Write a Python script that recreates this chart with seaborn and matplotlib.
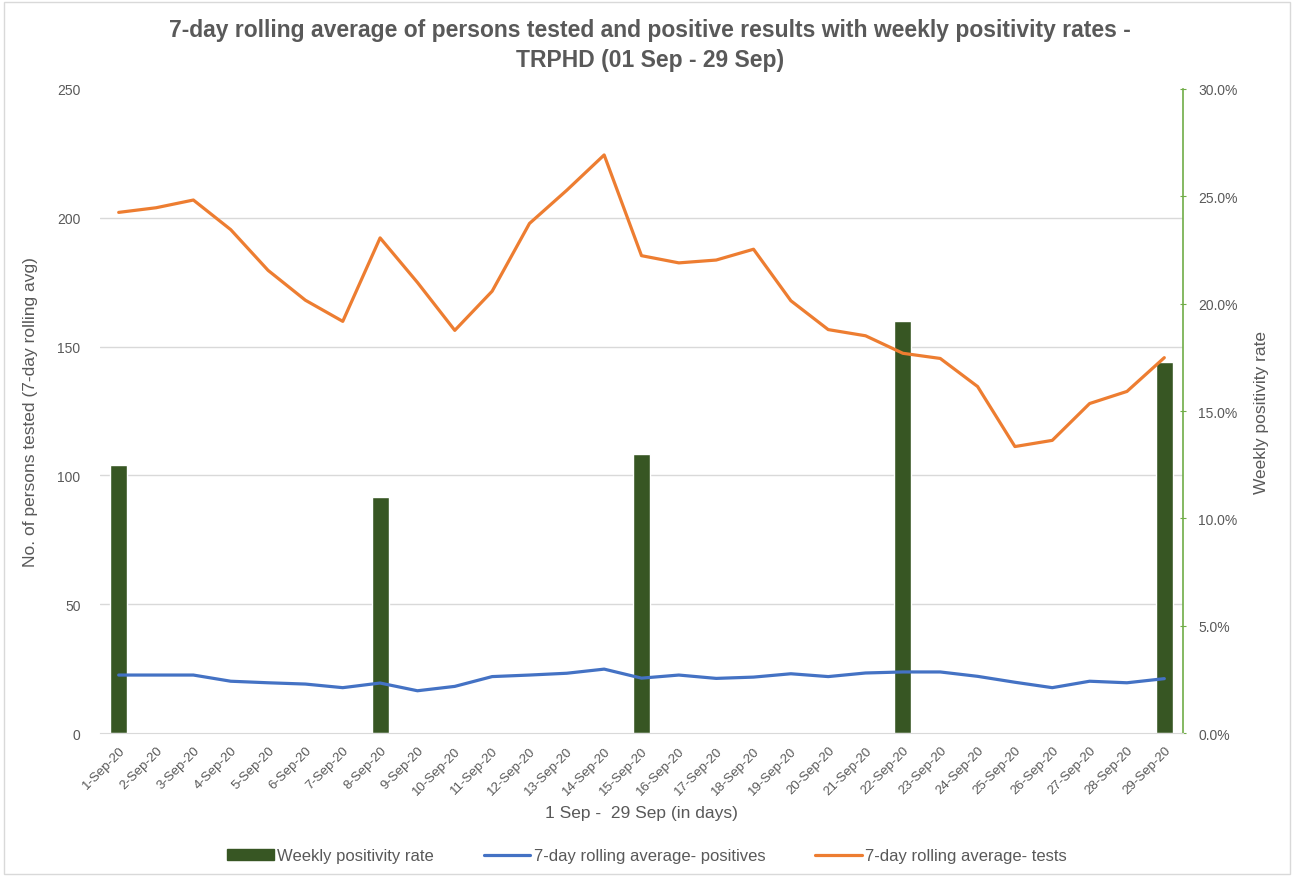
import numpy as np
import pandas as pd
import seaborn as sns
import matplotlib.pyplot as plt
from matplotlib.patches import Patch, Rectangle
from matplotlib.lines import Line2D
from matplotlib.ticker import PercentFormatter, FixedLocator, MultipleLocator

sns.set_style("white")
plt.rcParams['font.family'] = ['Liberation Sans', 'DejaVu Sans']

# Data
dates = [f"{d}-Sep-20" for d in range(1, 30)]
tests_avg = [202.1, 203.9, 206.9, 195.4, 179.6, 168.0, 159.8, 192.2, 174.9, 156.3,
             171.5, 197.8, 210.7, 224.4, 185.3, 182.5, 183.6, 187.8, 167.8, 156.6,
             154.2, 147.4, 145.4, 134.5, 111.2, 113.6, 127.9, 132.6, 145.7]
positives_avg = [22.5, 22.5, 22.5, 20.1, 19.5, 19.0, 17.6, 19.4, 16.4, 18.1,
                 21.9, 22.5, 23.2, 24.8, 21.3, 22.5, 21.2, 21.7, 23.0, 21.9,
                 23.3, 23.7, 23.7, 22.0, 19.7, 17.6, 20.1, 19.5, 21.1]
nan = np.nan
weekly_rate = [12.5, nan, nan, nan, nan, nan, nan, 11.0, nan, nan,
               nan, nan, nan, nan, 13.0, nan, nan, nan, nan, nan,
               nan, 19.2, nan, nan, nan, nan, nan, nan, 17.3]

df = pd.DataFrame({"date": dates, "pos": range(len(dates)), "tests": tests_avg,
                   "positives": positives_avg, "rate": weekly_rate})

grey = "#595959"
c_bar = "#375623"
c_blue = "#4472C4"
c_orange = "#ED7D31"
c_grid = "#D9D9D9"
c_green_axis = "#70AD47"

fig = plt.figure(figsize=(12.94, 8.78), dpi=100)
fig.patches.append(Rectangle((0.003, 0.003), 0.994, 0.994, transform=fig.transFigure,
                             fill=False, edgecolor=c_grid, linewidth=1))
ax = fig.add_axes([0.0773, 0.164, 0.8369, 0.7335])
ax2 = ax.twinx()

# bars on the secondary axis
sns.barplot(data=df, x="date", y="rate", order=dates, ax=ax2, color=c_bar,
            width=0.45, errorbar=None, saturation=1)

# lines on the primary axis
sns.lineplot(data=df, x="pos", y="positives", ax=ax, color=c_blue, linewidth=2.3)
sns.lineplot(data=df, x="pos", y="tests", ax=ax, color=c_orange, linewidth=2.3)

ax.set_zorder(ax2.get_zorder() + 1)
ax.patch.set_visible(False)

ax.set_xlim(-0.5, len(dates) - 0.5)
ax.set_ylim(0, 250)
ax2.set_ylim(0, 30)
ax.yaxis.set_major_locator(MultipleLocator(50))
ax2.yaxis.set_major_locator(MultipleLocator(5))
ax2.yaxis.set_major_formatter(PercentFormatter(xmax=100, decimals=1))

# gridlines of the left axis, drawn behind the bars
left_ticks = np.arange(50, 251, 50)
ax2.yaxis.set_minor_locator(FixedLocator(left_ticks / 250 * 30))
ax2.grid(which="minor", axis="y", color=c_grid, linewidth=1)
ax2.set_axisbelow(True)
ax.grid(False)
ax2.tick_params(axis="y", which="minor", length=0)

ax.set_xticks(range(len(dates)))
ax.set_xticklabels(dates, rotation=45, ha="right", rotation_mode="anchor",
                   fontsize=9.5, color=grey)
ax.xaxis.set_minor_locator(FixedLocator(np.arange(-0.5, len(dates), 1)))
ax.tick_params(axis="x", which="major", length=0, pad=8)
ax.tick_params(axis="x", which="minor", length=5, color=c_grid, direction="out")
ax.tick_params(axis="y", length=0, pad=14, labelsize=10, labelcolor=grey)
ax2.tick_params(axis="y", which="major", length=4, color=c_green_axis, direction="inout",
                pad=9, labelsize=10, labelcolor=grey)
ax2.set_xlabel("")

for s in ["left", "top", "right"]:
    ax.spines[s].set_visible(False)
ax.spines["bottom"].set_color(c_grid)
for s in ["left", "top", "bottom"]:
    ax2.spines[s].set_visible(False)
ax2.spines["right"].set_visible(True)
ax2.spines["right"].set_color(c_green_axis)
ax2.spines["right"].set_linewidth(1.2)

ax.set_xlabel("1 Sep -  29 Sep (in days)", fontsize=12.5, color=grey, labelpad=6)
ax.set_ylabel("No. of persons tested (7-day rolling avg)", fontsize=12.5, color=grey, labelpad=14)
ax2.set_ylabel("Weekly positivity rate", fontsize=12.5, color=grey, labelpad=12)

fig.text(0.502, 0.978, "7-day rolling average of persons tested and positive results with weekly positivity rates -\nTRPHD (01 Sep - 29 Sep)",
         ha="center", va="top", fontsize=16.5, fontweight="bold", color=grey, linespacing=1.35)

handles = [Patch(facecolor=c_bar, edgecolor=c_bar),
           Line2D([0], [0], color=c_blue, linewidth=2.3),
           Line2D([0], [0], color=c_orange, linewidth=2.3)]
labels = ["Weekly positivity rate", "7-day rolling average- positives", "7-day rolling average- tests"]
fig.legend(handles, labels, loc="center", bbox_to_anchor=(0.5, 0.024), ncol=3, frameon=False,
           fontsize=12, labelcolor=grey, handlelength=2.8, handletextpad=0.2, columnspacing=3)

fig.savefig("out.png", dpi=100)
